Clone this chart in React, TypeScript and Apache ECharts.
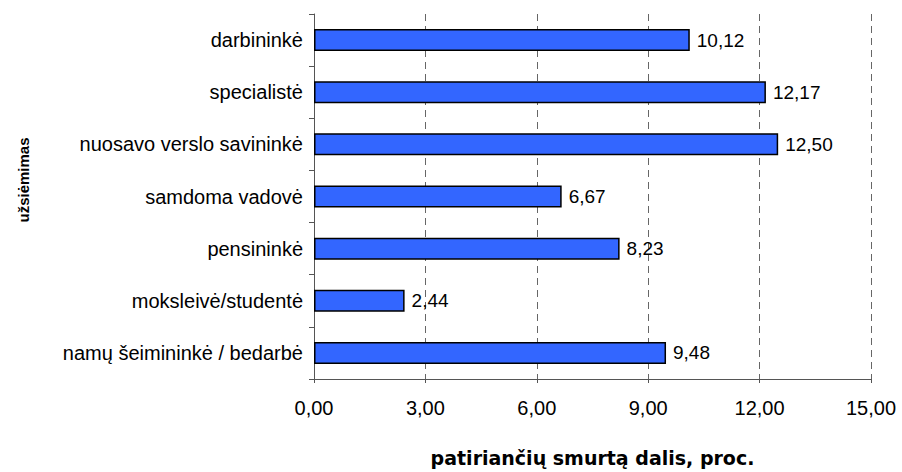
import React, { useEffect, useRef } from "react";
import * as echarts from "echarts";

const categories = [
  "darbininkė",
  "specialistė",
  "nuosavo verslo savininkė",
  "samdoma vadovė",
  "pensininkė",
  "moksleivė/studentė",
  "namų šeimininkė / bedarbė",
];
const values = [10.12, 12.17, 12.5, 6.67, 8.23, 2.44, 9.48];
const xTitle = "patiriančių smurtą dalis, proc.";
const yTitle = "užsiėmimas";

const fmt = (v: number) => v.toFixed(2).replace(".", ",");

const SANS = "Liberation Sans, Arial, sans-serif";
const WIDE = "DejaVu Sans, Verdana, sans-serif";

export default function App() {
  const ref = useRef<HTMLDivElement>(null);
  useEffect(() => {
    document.body.style.margin = "0";
    document.body.style.overflow = "hidden";
    const chart = echarts.init(ref.current!, null, { renderer: "svg" });
    chart.setOption({
      animation: false,
      textStyle: { fontFamily: SANS },
      grid: { left: 314, top: 14, width: 557, height: 370, containLabel: false },
      xAxis: {
        type: "value",
        min: 0,
        max: 15,
        interval: 3,
        axisLine: { show: true, lineStyle: { color: "#555", width: 1 } },
        axisTick: { show: true, length: 4, lineStyle: { color: "#555" } },
        axisLabel: {
          formatter: (v: number) => fmt(v),
          color: "#000",
          fontSize: 20,
          margin: 19,
          fontFamily: SANS,
        },
        splitLine: {
          show: true,
          lineStyle: { color: "#666", type: [7, 5], width: 1 },
        },
        name: xTitle,
        nameLocation: "middle",
        nameGap: 69,
        nameTextStyle: { fontWeight: "bold", fontSize: 19, color: "#000", fontFamily: WIDE },
      },
      yAxis: {
        type: "category",
        data: categories,
        inverse: true,
        axisLine: { show: true, lineStyle: { color: "#555", width: 1 } },
        axisTick: { show: true, length: 5, lineStyle: { color: "#555" } },
        axisLabel: { color: "#000", fontSize: 20, margin: 11, fontFamily: SANS },
        splitLine: { show: false },
      },
      graphic: [
        {
          type: "text",
          x: 23,
          y: 180,
          rotation: Math.PI / 2,
          style: {
            text: yTitle,
            fontWeight: "bold",
            fontSize: 15,
            fill: "#000",
            align: "center",
            verticalAlign: "middle",
            fontFamily: SANS,
          },
        },
      ],
      series: [
        {
          type: "bar",
          data: values,
          barWidth: 22,
          itemStyle: { color: "#3366FF", borderColor: "#000", borderWidth: 1.5 },
          label: {
            show: true,
            position: "right",
            distance: 7,
            formatter: (p: any) => fmt(p.value),
            color: "#000",
            fontSize: 19,
            fontFamily: SANS,
          },
        },
      ],
    });
    return () => chart.dispose();
  }, []);
  return <div ref={ref} style={{ width: 902, height: 472, overflow: "hidden" }} />;
}
